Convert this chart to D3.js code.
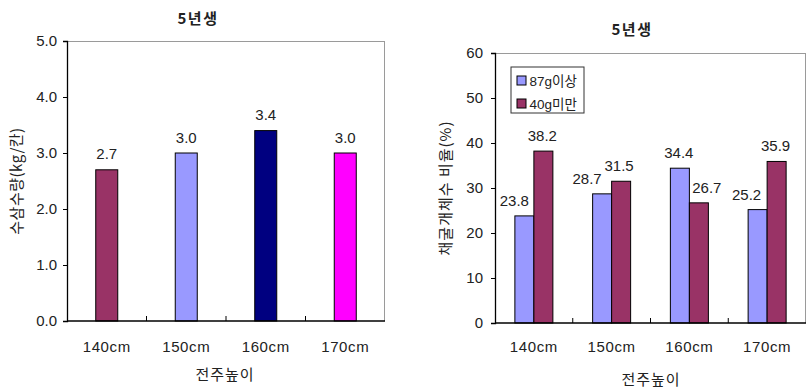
<!DOCTYPE html>
<html>
<head>
<meta charset="utf-8">
<script src="https://cdn.jsdelivr.net/npm/d3@7"></script>
<style>
  html, body { margin: 0; padding: 0; background: #fff; }
  svg text { font-family: "Liberation Sans", "Noto Sans CJK KR", sans-serif; fill: #222; }
  .kr { font-family: "Noto Sans CJK KR", "Liberation Sans", sans-serif; }
</style>
</head>
<body>
<svg id="chart" width="809" height="388"></svg>
<script>
// ---- data ----
const heights = ["140cm", "150cm", "160cm", "170cm"];
const yieldValues = [2.7, 3.0, 3.4, 3.0];
const yieldColors = ["#993366", "#9999FF", "#000080", "#FF00FF"];
const yieldTicks = [0, 1, 2, 3, 4, 5];

const seriesNames = ["87g이상", "40g미만"];
const over87 = [23.8, 28.7, 34.4, 25.2];
const under40 = [38.2, 31.5, 26.7, 35.9];
const seriesColors = ["#9999FF", "#993366"];
const ratioTicks = [0, 10, 20, 30, 40, 50, 60];

const chartTitle = "5년생";
const xTitle = "전주높이";
const yieldTitle = "수삼수량(kg/칸)";
const ratioTitle = "채굴개체수 비율(%)";

// label nudges (px) so neighbouring value labels don't collide
const over87Nudge = [-10, -15, -1, -11];
const under40Nudge = [-1, -2, 8, -1];

const svg = d3.select("#chart");

function frame(g, x0, x1, y0, y1) {
  // light frame on top/right, black axes on left/bottom
  g.append("line").attr("x1", x0).attr("x2", x1).attr("y1", y0 + 0.5).attr("y2", y0 + 0.5)
    .attr("stroke", "#9a9a9a").attr("stroke-width", 1);
  g.append("line").attr("x1", x1 - 0.5).attr("x2", x1 - 0.5).attr("y1", y0).attr("y2", y1)
    .attr("stroke", "#9a9a9a").attr("stroke-width", 1);
}

function yAxisDraw(g, y, x0, ticks, fmt, pad) {
  const ax = d3.axisLeft(y).tickValues(ticks).tickFormat(fmt).tickSize(4).tickPadding(pad);
  const a = g.append("g").attr("transform", `translate(${x0},0)`).call(ax);
  a.select(".domain").attr("stroke", "#000").attr("stroke-width", 1.3);
  a.selectAll(".tick line").attr("stroke", "#000");
  a.selectAll("text").attr("font-size", 15).attr("fill", "#222")
    .style("font-family", '"Liberation Sans", sans-serif');
}

function xAxisDraw(g, x, y0, x0, x1) {
  // baseline
  g.append("line").attr("x1", x0).attr("x2", x1).attr("y1", y0).attr("y2", y0)
    .attr("stroke", "#000").attr("stroke-width", 1.3);
  // category boundary ticks pointing into the plot
  const bounds = x.domain().slice(1).map(d => x(d));
  g.selectAll(null).data(bounds).enter().append("line")
    .attr("x1", d => d).attr("x2", d => d).attr("y1", y0).attr("y2", y0 - 5)
    .attr("stroke", "#000");
  g.selectAll(null).data(x.domain()).enter().append("text")
    .attr("x", d => x(d) + x.bandwidth() / 2).attr("y", 352)
    .attr("text-anchor", "middle").attr("font-size", 15).attr("letter-spacing", 0.6)
    .text(d => d);
}

// ---------------- left chart: yield ----------------
{
  const L = 67, R = 385, T = 41, B = 321;
  const g = svg.append("g");
  const x = d3.scaleBand().domain(heights).range([L, R]);
  const y = d3.scaleLinear().domain([0, 5]).range([B, T]);
  frame(g, L, R, T, B);

  const bw = 22;
  g.selectAll("rect.bar").data(yieldValues).enter().append("rect")
    .attr("class", "bar")
    .attr("x", (d, i) => x(heights[i]) + x.bandwidth() / 2 - bw / 2)
    .attr("y", d => y(d))
    .attr("width", bw)
    .attr("height", d => y(0) - y(d))
    .attr("fill", (d, i) => yieldColors[i])
    .attr("stroke", "#000").attr("stroke-width", 1);

  g.selectAll("text.val").data(yieldValues).enter().append("text")
    .attr("class", "val")
    .attr("x", (d, i) => x(heights[i]) + x.bandwidth() / 2)
    .attr("y", d => y(d) - 10.5)
    .attr("text-anchor", "middle").attr("font-size", 15)
    .text(d => d3.format(".1f")(d));

  yAxisDraw(g, y, L, yieldTicks, d3.format(".1f"), 6);
  xAxisDraw(g, x, B, L, R);

  g.append("text").attr("class", "kr").attr("x", 198).attr("y", 24)
    .attr("text-anchor", "middle").attr("font-size", 15).attr("font-weight", "bold")
    .attr("letter-spacing", 1.5).text(chartTitle);
  g.append("text").attr("class", "kr").attr("x", 225).attr("y", 380)
    .attr("text-anchor", "middle").attr("font-size", 15).attr("letter-spacing", 1)
    .text(xTitle);
  g.append("text").attr("class", "kr")
    .attr("transform", "translate(22,181) rotate(-90)")
    .attr("text-anchor", "middle").attr("font-size", 15).attr("letter-spacing", 0.5)
    .text(yieldTitle);
}

// ---------------- right chart: size ratio ----------------
{
  const L = 495, R = 806, T = 53, B = 323;
  const g = svg.append("g");
  const x = d3.scaleBand().domain(heights).range([L, R]);
  const y = d3.scaleLinear().domain([0, 60]).range([B, T]);
  const series = [over87, under40];
  const nudges = [over87Nudge, under40Nudge];
  const sub = d3.scaleBand().domain([0, 1]).range([-19, 19]);
  frame(g, L, R, T, B);

  series.forEach((vals, s) => {
    g.selectAll(null).data(vals).enter().append("rect")
      .attr("x", (d, i) => x(heights[i]) + x.bandwidth() / 2 + sub(s))
      .attr("y", d => y(d))
      .attr("width", sub.bandwidth())
      .attr("height", d => y(0) - y(d))
      .attr("fill", seriesColors[s])
      .attr("stroke", "#000").attr("stroke-width", 1);
  });
  series.forEach((vals, s) => {
    g.selectAll(null).data(vals).enter().append("text")
      .attr("x", (d, i) => x(heights[i]) + x.bandwidth() / 2 + sub(s) + sub.bandwidth() / 2 + nudges[s][i])
      .attr("y", d => y(d) - 10)
      .attr("text-anchor", "middle").attr("font-size", 15)
      .text(d => d3.format(".1f")(d));
  });

  yAxisDraw(g, y, L, ratioTicks, d3.format("d"), 8);
  xAxisDraw(g, x, B, L, R);

  // legend
  const lg = g.append("g");
  lg.append("rect").attr("x", 511).attr("y", 67).attr("width", 73).attr("height", 46)
    .attr("fill", "#fff").attr("stroke", "#333").attr("stroke-width", 1);
  seriesNames.forEach((name, s) => {
    const cy = 80.5 + s * 23;
    lg.append("rect").attr("x", 517).attr("y", cy - 4.5).attr("width", 9).attr("height", 9)
      .attr("fill", seriesColors[s]).attr("stroke", "#000").attr("stroke-width", 1);
    lg.append("text").attr("x", 529.5).attr("y", cy + 5)
      .attr("font-size", 13.5).text(name);
  });

  g.append("text").attr("class", "kr").attr("x", 632).attr("y", 35)
    .attr("text-anchor", "middle").attr("font-size", 15).attr("font-weight", "bold")
    .attr("letter-spacing", 1.5).text(chartTitle);
  g.append("text").attr("class", "kr").attr("x", 651).attr("y", 385)
    .attr("text-anchor", "middle").attr("font-size", 15).attr("letter-spacing", 1)
    .text(xTitle);
  g.append("text").attr("class", "kr")
    .attr("transform", "translate(451,188) rotate(-90)")
    .attr("text-anchor", "middle").attr("font-size", 15).attr("letter-spacing", 1)
    .text(ratioTitle);
}
</script>
</body>
</html>
